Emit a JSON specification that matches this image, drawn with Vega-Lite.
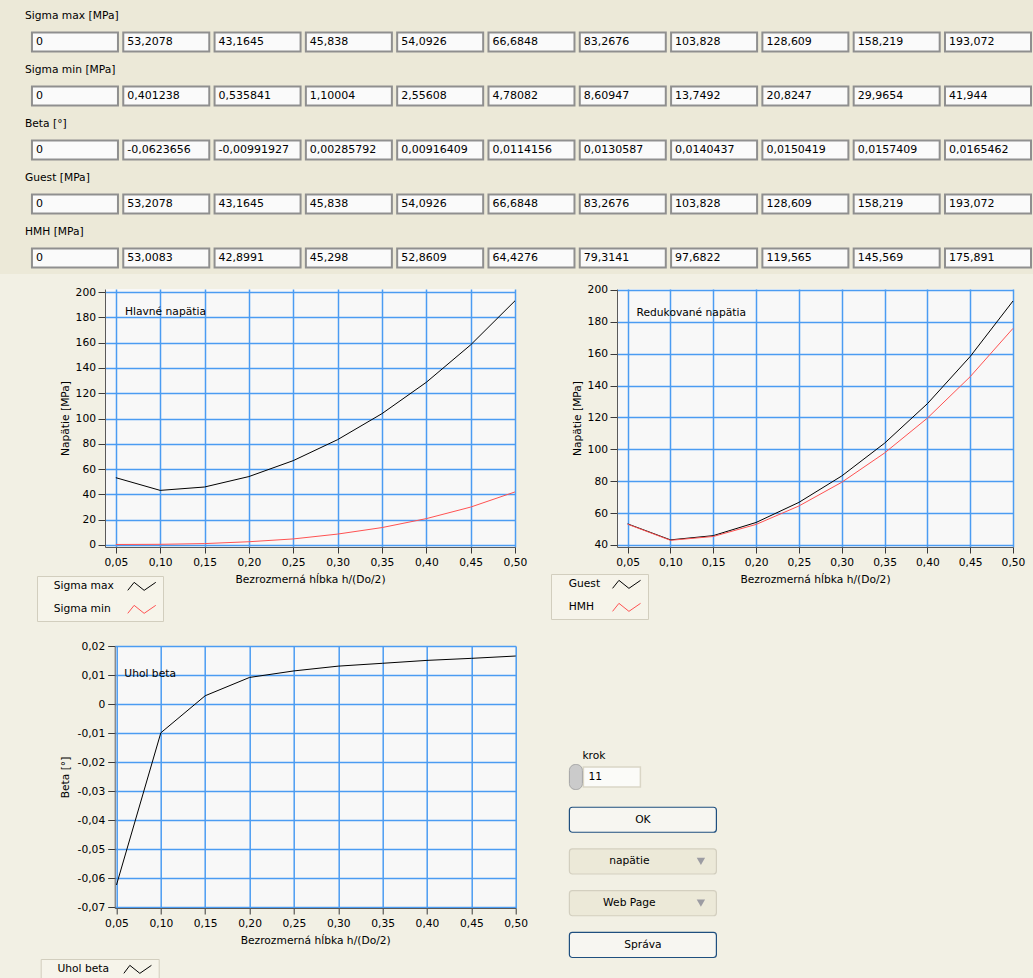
{
  "$schema": "https://vega.github.io/schema/vega-lite/v6.json",
  "background": "#F2F0E4",
  "padding": 0,
  "columns": 1,
  "align": "none",
  "spacing": 9,
  "resolve": {"scale": {"color": "independent"}, "legend": {"color": "independent"}},
  "datasets": {
    "vals": [
      {"h": 0, "Sigma max": 0, "Sigma min": 0, "Beta": 0, "Guest": 0, "HMH": 0},
      {"h": 0.05, "Sigma max": 53.2078, "Sigma min": 0.401238, "Beta": -0.0623656, "Guest": 53.2078, "HMH": 53.0083},
      {"h": 0.1, "Sigma max": 43.1645, "Sigma min": 0.535841, "Beta": -0.00991927, "Guest": 43.1645, "HMH": 42.8991},
      {"h": 0.15, "Sigma max": 45.838, "Sigma min": 1.10004, "Beta": 0.00285792, "Guest": 45.838, "HMH": 45.298},
      {"h": 0.2, "Sigma max": 54.0926, "Sigma min": 2.55608, "Beta": 0.00916409, "Guest": 54.0926, "HMH": 52.8609},
      {"h": 0.25, "Sigma max": 66.6848, "Sigma min": 4.78082, "Beta": 0.0114156, "Guest": 66.6848, "HMH": 64.4276},
      {"h": 0.3, "Sigma max": 83.2676, "Sigma min": 8.60947, "Beta": 0.0130587, "Guest": 83.2676, "HMH": 79.3141},
      {"h": 0.35, "Sigma max": 103.828, "Sigma min": 13.7492, "Beta": 0.0140437, "Guest": 103.828, "HMH": 97.6822},
      {"h": 0.4, "Sigma max": 128.609, "Sigma min": 20.8247, "Beta": 0.0150419, "Guest": 128.609, "HMH": 119.565},
      {"h": 0.45, "Sigma max": 158.219, "Sigma min": 29.9654, "Beta": 0.0157409, "Guest": 158.219, "HMH": 145.569},
      {"h": 0.5, "Sigma max": 193.072, "Sigma min": 41.944, "Beta": 0.0165462, "Guest": 193.072, "HMH": 175.891}
    ],
    "widgets": [
      {"w": "krok", "kind": "field", "label": "11", "caption": "krok"},
      {"w": "OK", "kind": "button", "label": "OK", "caption": ""},
      {"w": "napätie", "kind": "dropdown", "label": "napätie", "caption": ""},
      {"w": "Web Page", "kind": "dropdown", "label": "Web Page", "caption": ""},
      {"w": "Správa", "kind": "button", "label": "Správa", "caption": ""}
    ]
  },
  "concat": [
    {
      "width": 1033,
      "height": 274,
      "view": {"fill": "#ECE9D8", "stroke": null},
      "data": {"name": "vals"},
      "transform": [{"fold": ["Sigma max", "Sigma min", "Beta", "Guest", "HMH"], "as": ["serie", "v"]}],
      "encoding": {
        "x": {"field": "h", "type": "ordinal", "scale": {"type": "band", "paddingInner": 0.058, "paddingOuter": 0.186, "align": 0.941}, "axis": null},
        "y": {"field": "serie", "type": "nominal", "sort": ["Sigma max", "Sigma min", "Beta", "Guest", "HMH"], "scale": {"type": "band", "paddingInner": 0.648, "paddingOuter": 0.361, "align": 0.833}, "axis": null}
      },
      "layer": [
        {"mark": {"type": "rect", "fill": "#FAFAFA", "stroke": "#8F8F8F", "strokeWidth": 2}},
        {
          "mark": {"type": "text", "align": "left", "baseline": "middle", "dx": 4, "fontSize": 11, "color": "#000000"},
          "encoding": {
            "x": {"field": "h", "type": "ordinal", "bandPosition": 0},
            "text": {"field": "v", "type": "quantitative", "format": ".6~g"}
          }
        },
        {
          "transform": [
            {"filter": "datum.h == 0"},
            {"calculate": "datum.serie == 'Beta' ? 'Beta [°]' : datum.serie + ' [MPa]'", "as": "lab"}
          ],
          "mark": {"type": "text", "align": "left", "baseline": "middle", "dx": -7, "dy": -25.5, "fontSize": 10.7, "color": "#000000"},
          "encoding": {
            "x": {"field": "h", "type": "ordinal", "bandPosition": 0},
            "text": {"field": "lab", "type": "nominal"}
          }
        }
      ]
    },
    {
      "columns": 1,
      "align": "none",
      "spacing": 18,
      "resolve": {"scale": {"color": "independent"}, "legend": {"color": "independent"}},
      "concat": [
        {
          "bounds": "flush",
          "spacing": 102,
          "resolve": {"scale": {"color": "independent"}, "legend": {"color": "independent"}},
          "hconcat": [
            {
              "width": 3,
              "height": 10,
              "view": {"fill": null, "stroke": null},
              "data": {"values": []},
              "mark": "point"
            },
            {
              "width": 410,
              "height": 258,
              "view": {"fill": "#F8F8F8", "stroke": null},
              "layer": [
                {
                  "data": {"name": "vals"},
                  "transform": [{"filter": "datum.h > 0"}, {"fold": ["Sigma max", "Sigma min"], "as": ["serie", "v"]}],
                  "mark": {"type": "line", "strokeWidth": 1},
                  "encoding": {
                    "x": {
                      "field": "h", "type": "quantitative",
                      "scale": {"domain": [0.0378, 0.5], "nice": false, "zero": false},
                      "axis": {"values": [0.05, 0.1, 0.15, 0.2, 0.25, 0.3, 0.35, 0.4, 0.45, 0.5], "tickCount": 30, "format": ".2f", "labelFlush": false, "title": "Bezrozmerná hĺbka h/(Do/2)", "titlePadding": 8, "labelPadding": 4, "tickSize": 6}
                    },
                    "y": {
                      "field": "v", "type": "quantitative",
                      "scale": {"domain": [-1.6, 202.4], "nice": false, "zero": false},
                      "axis": {"values": [0, 20, 40, 60, 80, 100, 120, 140, 160, 180, 200], "tickCount": 30, "format": "d", "title": "Napätie [MPa]", "titlePadding": 5.5, "minExtent": 29.5, "maxExtent": 29.5, "labelPadding": 2.5, "tickSize": 7}
                    },
                    "color": {
                      "field": "serie", "type": "nominal",
                      "scale": {"domain": ["Sigma max", "Sigma min"], "range": ["#000000", "#FF5252"]},
                      "legend": {"orient": "none", "legendX": -68, "legendY": 287, "title": null, "padding": 5, "fillColor": "#F6F4EA", "strokeColor": "#D2CEBE", "symbolType": "M20.1,1L21.7,-1L24.2,1L27.1,-1", "symbolSize": 64, "symbolStrokeWidth": 1, "symbolFillColor": "transparent", "labelOffset": 1, "rowPadding": 10}
                    }
                  }
                },
                {
                  "data": {"values": [{}]},
                  "mark": {"type": "text", "align": "left", "baseline": "middle", "color": "#000000"},
                  "encoding": {"x": {"datum": 0.0603, "type": "quantitative"}, "y": {"datum": 184.2, "type": "quantitative"}, "text": {"value": "Hlavné napätia"}}
                }
              ]
            },
            {
              "width": 396,
              "height": 258,
              "view": {"fill": "#F8F8F8", "stroke": null},
              "layer": [
                {
                  "data": {"name": "vals"},
                  "transform": [{"filter": "datum.h > 0"}, {"fold": ["Guest", "HMH"], "as": ["serie", "v"]}],
                  "mark": {"type": "line", "strokeWidth": 1},
                  "encoding": {
                    "x": {
                      "field": "h", "type": "quantitative",
                      "scale": {"domain": [0.0376, 0.5], "nice": false, "zero": false},
                      "axis": {"values": [0.05, 0.1, 0.15, 0.2, 0.25, 0.3, 0.35, 0.4, 0.45, 0.5], "tickCount": 30, "format": ".2f", "labelFlush": false, "title": "Bezrozmerná hĺbka h/(Do/2)", "titlePadding": 8, "labelPadding": 4, "tickSize": 6}
                    },
                    "y": {
                      "field": "v", "type": "quantitative",
                      "scale": {"domain": [38.7, 200.6], "nice": false, "zero": false},
                      "axis": {"values": [40, 60, 80, 100, 120, 140, 160, 180, 200], "tickCount": 30, "format": "d", "title": "Napätie [MPa]", "titlePadding": 5.5, "minExtent": 29.5, "maxExtent": 29.5, "labelPadding": 2.5, "tickSize": 7}
                    },
                    "color": {
                      "field": "serie", "type": "nominal",
                      "scale": {"domain": ["Guest", "HMH"], "range": ["#000000", "#FF5252"]},
                      "legend": {"orient": "none", "legendX": -66, "legendY": 285, "title": null, "padding": 5, "fillColor": "#F6F4EA", "strokeColor": "#D2CEBE", "symbolType": "M12.8,1L14.4,-1L16.9,1L19.8,-1", "symbolSize": 64, "symbolStrokeWidth": 1, "symbolFillColor": "transparent", "labelOffset": 2, "rowPadding": 10}
                    }
                  }
                },
                {
                  "data": {"values": [{}]},
                  "mark": {"type": "text", "align": "left", "baseline": "middle", "color": "#000000"},
                  "encoding": {"x": {"datum": 0.0604, "type": "quantitative"}, "y": {"datum": 185.7, "type": "quantitative"}, "text": {"value": "Redukované napätia"}}
                }
              ]
            }
          ]
        },
        {
          "bounds": "flush",
          "spacing": 53.7,
          "resolve": {"scale": {"color": "independent"}, "legend": {"color": "independent"}},
          "hconcat": [
            {
              "width": 60.6,
              "height": 10,
              "view": {"fill": null, "stroke": null},
              "data": {"values": []},
              "mark": "point"
            },
            {
              "width": 401,
              "height": 262,
              "view": {"fill": "#F8F8F8", "stroke": null},
              "layer": [
                {
                  "data": {"name": "vals"},
                  "transform": [{"filter": "datum.h > 0"}, {"fold": ["Beta"], "as": ["serie", "v"]}],
                  "mark": {"type": "line", "strokeWidth": 1},
                  "encoding": {
                    "x": {
                      "field": "h", "type": "quantitative",
                      "scale": {"domain": [0.048, 0.5], "nice": false, "zero": false},
                      "axis": {"values": [0.05, 0.1, 0.15, 0.2, 0.25, 0.3, 0.35, 0.4, 0.45, 0.5], "tickCount": 30, "format": ".2f", "labelFlush": false, "title": "Bezrozmerná hĺbka h/(Do/2)", "titlePadding": 8, "labelPadding": 4, "tickSize": 6}
                    },
                    "y": {
                      "field": "v", "type": "quantitative",
                      "scale": {"domain": [-0.0703, 0.02], "nice": false, "zero": false},
                      "axis": {"values": [-0.07, -0.06, -0.05, -0.04, -0.03, -0.02, -0.01, 0, 0.01, 0.02], "tickCount": 30, "format": ".2~f", "title": "Beta [°]", "titlePadding": 6.3, "minExtent": 38, "maxExtent": 38, "labelPadding": 3, "tickSize": 7}
                    },
                    "color": {
                      "field": "serie", "type": "nominal",
                      "scale": {"domain": ["Beta"], "range": ["#000000"]},
                      "legend": {"orient": "none", "legendX": -74, "legendY": 313, "title": null, "padding": 5, "fillColor": "#F6F4EA", "strokeColor": "#D2CEBE", "symbolType": "M18.2,1L19.7,-1L22.2,1L25.1,-1", "symbolSize": 64, "symbolStrokeWidth": 1, "symbolFillColor": "transparent", "labelOffset": 1, "labelExpr": "'Uhol beta'"}
                    }
                  }
                },
                {
                  "data": {"values": [{}]},
                  "mark": {"type": "text", "align": "left", "baseline": "middle", "color": "#000000"},
                  "encoding": {"x": {"datum": 0.0589, "type": "quantitative"}, "y": {"datum": 0.01035, "type": "quantitative"}, "text": {"value": "Uhol beta"}}
                }
              ]
            },
            {
              "width": 147,
              "height": 275.5,
              "view": {"fill": null, "stroke": null},
              "data": {"name": "widgets"},
              "encoding": {
                "x": {"datum": "ovládanie", "type": "nominal", "scale": {"type": "band", "paddingInner": 0, "paddingOuter": 0}, "axis": null},
                "y": {"field": "w", "type": "nominal", "sort": ["krok", "OK", "napätie", "Web Page", "Správa"], "scale": {"type": "band", "paddingInner": 0.4, "paddingOuter": 1, "align": 1}, "axis": null}
              },
              "layer": [
                {
                  "transform": [{"filter": "datum.kind != 'field'"}],
                  "mark": {"type": "rect", "cornerRadius": 3, "strokeWidth": 1.2, "yOffset": 36},
                  "encoding": {
                    "fill": {"field": "kind", "type": "nominal", "scale": {"domain": ["button", "dropdown"], "range": ["#F7F6F1", "#ECE9D8"]}, "legend": null},
                    "stroke": {"field": "kind", "type": "nominal", "scale": {"domain": ["button", "dropdown"], "range": ["#1F4F7F", "#D3CFBF"]}, "legend": null}
                  }
                },
                {
                  "transform": [{"filter": "datum.kind == 'dropdown'"}],
                  "mark": {"type": "point", "shape": "triangle-down", "filled": true, "size": 70, "color": "#9C9CA2", "opacity": 1, "xOffset": 58, "yOffset": 36}
                },
                {
                  "transform": [{"filter": "datum.kind == 'button'"}],
                  "mark": {"type": "text", "align": "center", "baseline": "middle", "color": "#000000", "yOffset": 36},
                  "encoding": {"text": {"field": "label", "type": "nominal"}}
                },
                {
                  "transform": [{"filter": "datum.kind == 'dropdown'"}],
                  "mark": {"type": "text", "align": "center", "baseline": "middle", "color": "#000000", "dx": -13.5, "yOffset": 36},
                  "encoding": {"text": {"field": "label", "type": "nominal"}}
                },
                {
                  "transform": [{"filter": "datum.kind == 'field'"}],
                  "mark": {"type": "rect", "width": 57, "height": 20, "xOffset": -31, "yOffset": 35, "fill": "#FBFBF8", "stroke": "#DAD6C6", "strokeWidth": 1.5}
                },
                {
                  "transform": [{"filter": "datum.kind == 'field'"}],
                  "mark": {"type": "rect", "width": 13, "height": 25, "xOffset": -67, "yOffset": 35, "cornerRadius": 6, "fill": "#CBCBCB", "stroke": "#A5A5A5", "strokeWidth": 1}
                },
                {
                  "transform": [{"filter": "datum.kind == 'field'"}],
                  "mark": {"type": "text", "align": "left", "baseline": "middle", "color": "#000000", "dx": -54.5, "yOffset": 35},
                  "encoding": {"text": {"field": "label", "type": "nominal"}}
                },
                {
                  "transform": [{"filter": "datum.kind == 'field'"}],
                  "mark": {"type": "text", "align": "left", "baseline": "middle", "color": "#000000", "dx": -60.5, "dy": -21, "yOffset": 35},
                  "encoding": {"text": {"field": "caption", "type": "nominal"}}
                }
              ]
            }
          ]
        }
      ]
    }
  ],
  "config": {
    "font": "DejaVu Sans",
    "locale": {"number": {"decimal": ",", "thousands": " ", "grouping": [3], "currency": ["", ""], "minus": "-"}},
    "view": {"stroke": null},
    "axis": {"labelFontSize": 10.7, "titleFontSize": 10.7, "titleFontWeight": "normal", "labelColor": "#000000", "titleColor": "#000000", "tickColor": "#3A3A3A", "domainColor": "#5A5A5A", "gridColor": "#4B9CF2", "gridWidth": 1.5, "gridOpacity": 1, "grid": true, "labelOverlap": false},
    "legend": {"labelFontSize": 10.7, "labelColor": "#000000"},
    "text": {"fontSize": 10.7}
  }
}
